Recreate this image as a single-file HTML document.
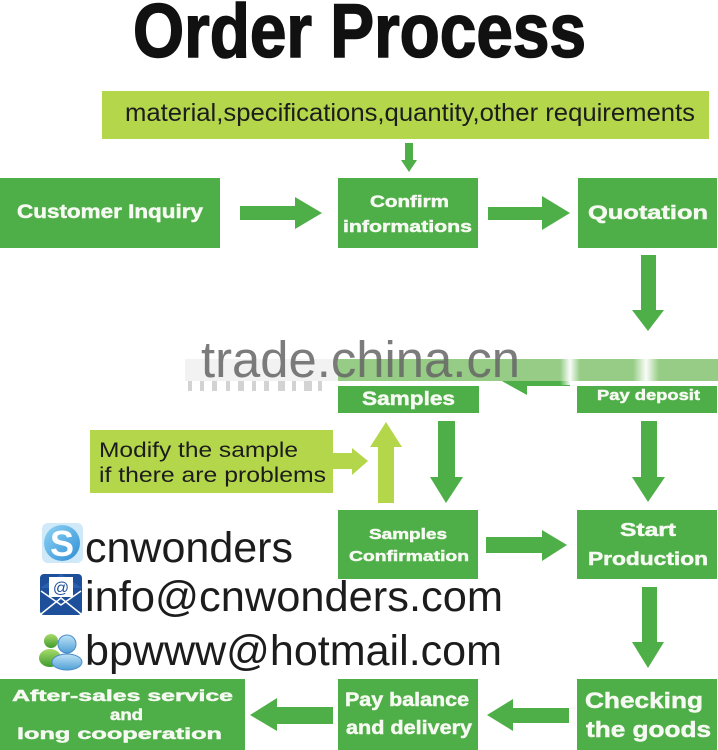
<!DOCTYPE html>
<html>
<head>
<meta charset="utf-8">
<style>
  html,body{margin:0;padding:0;background:#fff;}
  svg{display:block;}
  .bx{fill:#4eae47;}
  .lg{fill:#b4d64b;}
  .wt{font-family:"Liberation Sans",sans-serif;font-weight:bold;fill:#f6f9f2;stroke:#f6f9f2;stroke-width:0.5;}
  .dk{font-family:"Liberation Sans",sans-serif;fill:#1c1c1c;}
</style>
</head>
<body>
<svg width="718" height="750" viewBox="0 0 718 750" xmlns="http://www.w3.org/2000/svg">
  <defs>
    <linearGradient id="sky" x1="0" y1="0" x2="1" y2="1">
      <stop offset="0" stop-color="#8fd3f4"/>
      <stop offset="1" stop-color="#2f8fd6"/>
    </linearGradient>
    <linearGradient id="msnb" x1="0" y1="0" x2="0" y2="1">
      <stop offset="0" stop-color="#bfe3f7"/>
      <stop offset="1" stop-color="#4f9fd6"/>
    </linearGradient>
    <linearGradient id="msng" x1="0" y1="0" x2="0" y2="1">
      <stop offset="0" stop-color="#a8dc6a"/>
      <stop offset="1" stop-color="#3f9a2e"/>
    </linearGradient>
    <linearGradient id="fadeV" x1="0" y1="0" x2="0" y2="1">
      <stop offset="0" stop-color="#ffffff" stop-opacity="0"/>
      <stop offset="1" stop-color="#ffffff" stop-opacity="0.9"/>
    </linearGradient>
    <linearGradient id="stripe" x1="0" y1="0" x2="1" y2="0">
      <stop offset="0" stop-color="#ffffff" stop-opacity="0"/>
      <stop offset="0.5" stop-color="#ffffff" stop-opacity="0.95"/>
      <stop offset="1" stop-color="#ffffff" stop-opacity="0"/>
    </linearGradient>
  </defs>

  <!-- Title -->
  <text x="133" y="57" font-family="Liberation Sans, sans-serif" font-weight="bold" font-size="76" fill="#111" stroke="#111" stroke-width="1.6" textLength="453" lengthAdjust="spacingAndGlyphs">Order Process</text>

  <!-- Requirements bar -->
  <rect class="lg" x="102" y="91" width="607" height="48"/>
  <text class="dk" x="125" y="121" font-size="25" textLength="570" lengthAdjust="spacingAndGlyphs">material,specifications,quantity,other requirements</text>

  <!-- small down arrow -->
  <rect class="bx" x="405" y="143" width="8" height="18"/>
  <polygon class="bx" points="401,160 417,160 409,172"/>

  <!-- Row 1 boxes -->
  <rect class="bx" x="0" y="178" width="220" height="70"/>
  <text class="wt" x="17" y="218" font-size="19" textLength="186" lengthAdjust="spacingAndGlyphs">Customer Inquiry</text>

  <rect class="bx" x="338" y="178" width="140" height="70"/>
  <text class="wt" x="370" y="207" font-size="17" textLength="79" lengthAdjust="spacingAndGlyphs">Confirm</text>
  <text class="wt" x="343" y="232" font-size="17" textLength="129" lengthAdjust="spacingAndGlyphs">informations</text>

  <rect class="bx" x="578" y="178" width="139" height="70"/>
  <text class="wt" x="588" y="219" font-size="19" textLength="120" lengthAdjust="spacingAndGlyphs">Quotation</text>

  <!-- Row1 arrows -->
  <rect class="bx" x="240" y="206" width="56" height="14"/>
  <polygon class="bx" points="295,197 322,213 295,229"/>
  <rect class="bx" x="488" y="207" width="55" height="13"/>
  <polygon class="bx" points="542,196 570,213 542,230"/>

  <!-- Quotation down arrow -->
  <rect class="bx" x="641" y="255" width="15" height="56"/>
  <polygon class="bx" points="632,310 664,310 648,331"/>
  <rect x="636" y="331" width="24" height="28" fill="url(#fadeV)"/>

  <!-- Row 2: Samples & Pay deposit -->
  <rect class="bx" x="338" y="386" width="141" height="27"/>
  <rect class="bx" x="577" y="386" width="140" height="27"/>
  <!-- left arrow (mostly hidden) -->
  <rect class="bx" x="526" y="372" width="44" height="14"/>
  <polygon class="bx" points="527,364 500,380 527,395"/>

  <!-- watermark band -->
  <rect x="185" y="359" width="153" height="22" fill="#f2f2f2"/>
  <rect x="338" y="359" width="380" height="22" fill="#96cc85"/>
  <rect x="479" y="381" width="21" height="5" fill="#ffffff"/>
  <rect x="560" y="345" width="20" height="40" fill="url(#stripe)"/>
  <rect x="633" y="345" width="26" height="40" fill="url(#stripe)"/>
  <g fill="#c9c9c9" opacity="0.8">
    <rect x="188" y="381" width="4" height="10"/><rect x="200" y="381" width="4" height="10"/>
    <rect x="212" y="381" width="5" height="10"/><rect x="226" y="381" width="4" height="10"/>
    <rect x="238" y="381" width="6" height="10"/><rect x="252" y="381" width="4" height="10"/>
    <rect x="264" y="381" width="5" height="10"/><rect x="278" y="381" width="7" height="10"/>
    <rect x="292" y="381" width="4" height="10"/><rect x="304" y="381" width="8" height="10"/>
    <rect x="318" y="381" width="4" height="10"/>
  </g>
  <text x="201" y="377" font-family="Liberation Sans, sans-serif" font-size="51" fill="#666" opacity="0.85" textLength="319" lengthAdjust="spacingAndGlyphs">trade.china.cn</text>

  <text class="wt" x="362" y="405" font-size="19" textLength="93" lengthAdjust="spacingAndGlyphs">Samples</text>
  <text class="wt" x="597" y="400" font-size="15" textLength="103" lengthAdjust="spacingAndGlyphs">Pay deposit</text>

  <!-- Modify box -->
  <rect class="lg" x="90" y="430" width="243" height="63"/>
  <text class="dk" x="99" y="457" font-size="21" textLength="199" lengthAdjust="spacingAndGlyphs">Modify the sample</text>
  <text class="dk" x="99" y="482" font-size="21" textLength="227" lengthAdjust="spacingAndGlyphs">if there are problems</text>
  <rect class="lg" x="332" y="453" width="21" height="16"/>
  <polygon class="lg" points="352,448 368,461 352,475"/>

  <!-- light up arrow -->
  <rect class="lg" x="378" y="446" width="16" height="57"/>
  <polygon class="lg" points="370,447 402,447 386,422"/>

  <!-- Samples down arrow -->
  <rect class="bx" x="438" y="421" width="17" height="57"/>
  <polygon class="bx" points="430,477 463,477 446,503"/>

  <!-- Pay deposit down arrow -->
  <rect class="bx" x="641" y="421" width="16" height="57"/>
  <polygon class="bx" points="632,477 665,477 648,502"/>

  <!-- Row 3 -->
  <rect class="bx" x="338" y="510" width="140" height="69"/>
  <text class="wt" x="369" y="539" font-size="15" textLength="78" lengthAdjust="spacingAndGlyphs">Samples</text>
  <text class="wt" x="349" y="561" font-size="15" textLength="120" lengthAdjust="spacingAndGlyphs">Confirmation</text>

  <rect class="bx" x="577" y="510" width="140" height="69"/>
  <text class="wt" x="620" y="536" font-size="18" textLength="56" lengthAdjust="spacingAndGlyphs">Start</text>
  <text class="wt" x="588" y="565" font-size="18" textLength="120" lengthAdjust="spacingAndGlyphs">Production</text>

  <rect class="bx" x="486" y="537" width="57" height="16"/>
  <polygon class="bx" points="542,530 567,545 542,561"/>

  <rect class="bx" x="642" y="587" width="15" height="56"/>
  <polygon class="bx" points="632,642 664,642 648,668"/>

  <!-- Contacts -->
  <g>
    <rect x="42" y="523" width="41" height="40" rx="6" fill="#cfe9f8"/>
    <circle cx="62" cy="543" r="18" fill="url(#sky)"/>
    <text x="62" y="556" text-anchor="middle" font-family="Liberation Sans, sans-serif" font-weight="bold" font-size="36" fill="#fff">S</text>
  </g>
  <text class="dk" x="85" y="562" font-size="43" fill="#111" textLength="208" lengthAdjust="spacingAndGlyphs">cnwonders</text>

  <g>
    <rect x="40" y="574" width="42" height="41" rx="4" fill="#1d4f9a"/>
    <polygon points="40,588 61,574 82,588" fill="#2a62b0"/>
    <rect x="49" y="577" width="24" height="20" fill="#fff"/>
    <text x="61" y="593" text-anchor="middle" font-family="Liberation Sans, sans-serif" font-size="16" fill="#1d4f9a">@</text>
    <polygon points="40,590 61,604 82,590 82,594 61,607 40,594" fill="#1d4f9a"/>
    <polyline points="41,614 61,598 81,614" fill="none" stroke="#fff" stroke-width="1.5"/>
    <polyline points="41,591 61,605 81,591" fill="none" stroke="#fff" stroke-width="1.5"/>
  </g>
  <text class="dk" x="85" y="611" font-size="43" fill="#111" textLength="418" lengthAdjust="spacingAndGlyphs">info@cnwonders.com</text>

  <g>
    <circle cx="51" cy="641" r="7" fill="url(#msng)"/>
    <ellipse cx="50" cy="658" rx="11" ry="9" fill="url(#msng)"/>
    <circle cx="67" cy="644" r="9" fill="url(#msnb)" stroke="#4a8cc8" stroke-width="1"/>
    <ellipse cx="67" cy="662" rx="15" ry="8" fill="url(#msnb)" stroke="#4a8cc8" stroke-width="1"/>
  </g>
  <text class="dk" x="85" y="665" font-size="43" fill="#111" textLength="417" lengthAdjust="spacingAndGlyphs">bpwww@hotmail.com</text>

  <!-- Row 4 -->
  <rect class="bx" x="0" y="679" width="245" height="71"/>
  <text class="wt" x="12" y="701" font-size="16" textLength="221" lengthAdjust="spacingAndGlyphs">After-sales service</text>
  <text class="wt" x="110" y="720" font-size="16" textLength="33" lengthAdjust="spacingAndGlyphs">and</text>
  <text class="wt" x="17" y="739" font-size="16" textLength="205" lengthAdjust="spacingAndGlyphs">long cooperation</text>

  <rect class="bx" x="338" y="679" width="140" height="71"/>
  <text class="wt" x="345" y="706" font-size="19" textLength="124" lengthAdjust="spacingAndGlyphs">Pay balance</text>
  <text class="wt" x="346" y="734" font-size="19" textLength="126" lengthAdjust="spacingAndGlyphs">and delivery</text>

  <rect class="bx" x="577" y="679" width="140" height="71"/>
  <text class="wt" x="585" y="708" font-size="22" textLength="118" lengthAdjust="spacingAndGlyphs">Checking</text>
  <text class="wt" x="586" y="737" font-size="22" textLength="125" lengthAdjust="spacingAndGlyphs">the goods</text>

  <rect class="bx" x="512" y="708" width="57" height="15"/>
  <polygon class="bx" points="513,699 487,715 513,731"/>

  <rect class="bx" x="276" y="707" width="57" height="17"/>
  <polygon class="bx" points="277,698 250,715 277,731"/>
</svg>
</body>
</html>
